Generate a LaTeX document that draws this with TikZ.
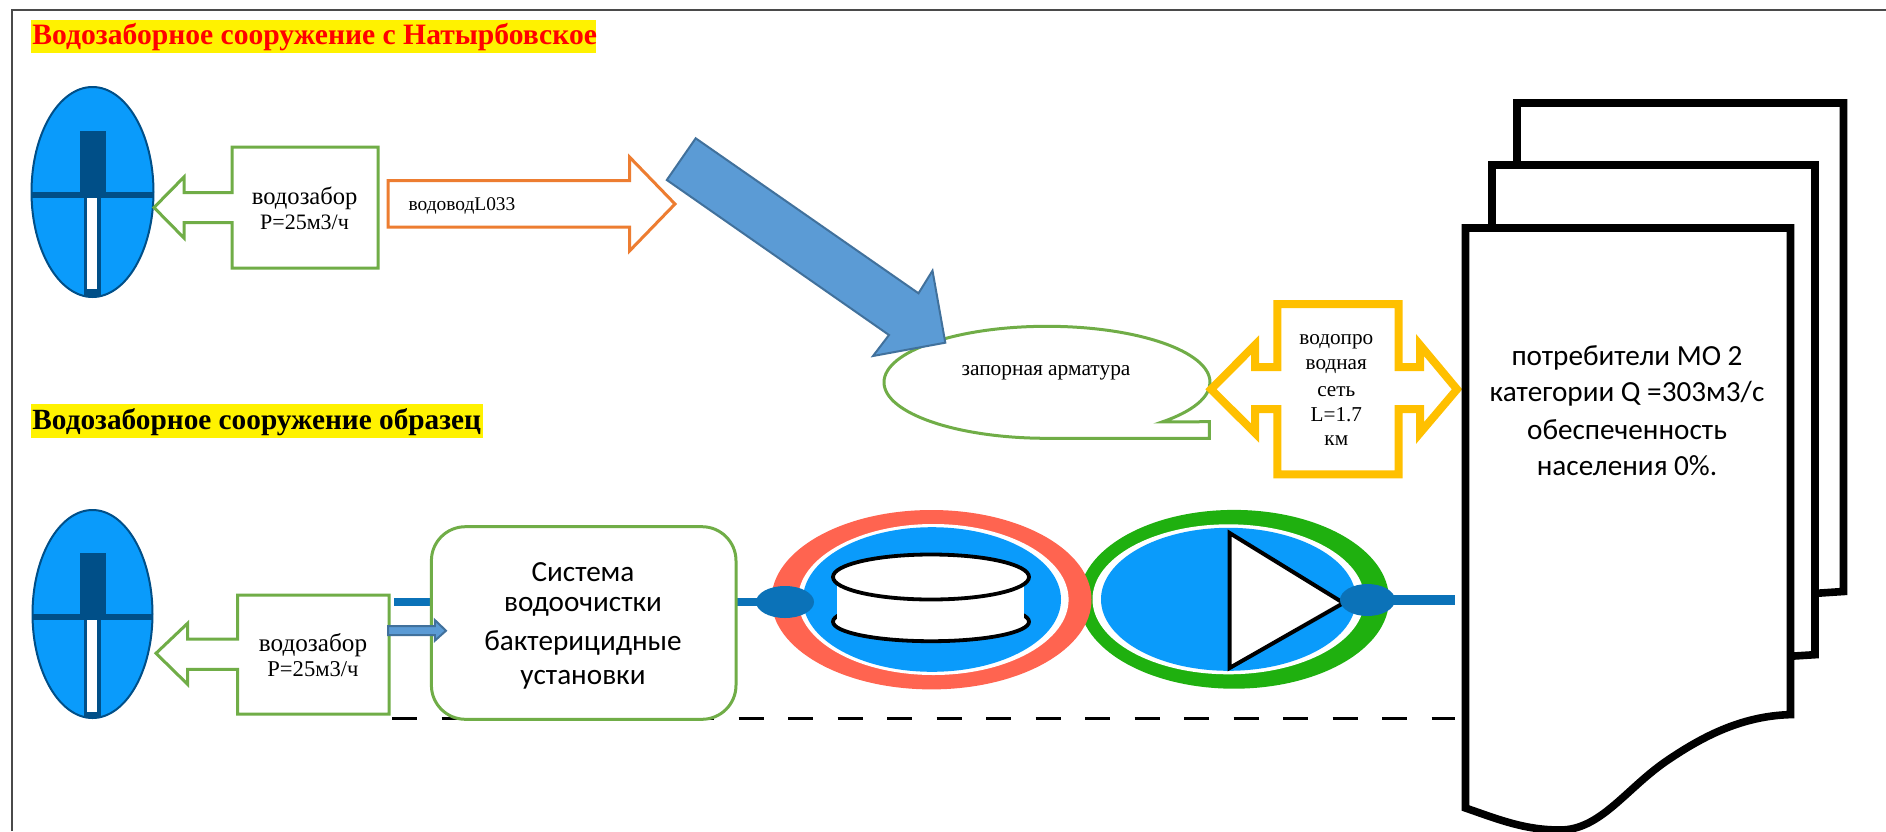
\documentclass[tikz,border=0pt]{standalone}
\usepackage{fontspec}
\setmainfont{Liberation Serif}
\newfontfamily\calfont{Carlito}
\definecolor{frameC}{HTML}{4A4A4A}
\definecolor{grn}{HTML}{70AD47}
\definecolor{org}{HTML}{ED7D31}
\definecolor{ylw}{HTML}{FFC000}
\definecolor{arF}{HTML}{5B9BD5}
\definecolor{arD}{HTML}{41719C}
\definecolor{wat}{HTML}{0A9BFB}
\definecolor{dkb}{HTML}{004F88}
\definecolor{pipe}{HTML}{0B72B8}
\definecolor{ringR}{HTML}{FF6450}
\definecolor{ringG}{HTML}{1FB00F}
\tikzset{
  x=0.5pt,y=-0.5pt,
  txt/.style={inner sep=0pt,align=center,font=\fontsize{#1}{#1}\selectfont,text=black},
  cal/.style={inner sep=0pt,align=center,font=\calfont\fontsize{#1}{#1}\selectfont,text=black},
  head/.style={inner sep=0pt,anchor=west,font=\bfseries\fontsize{#1}{#1}\selectfont},
  block/.style={draw=grn,line width=1.5pt,fill=white,miter limit=10},
  doc/.style={draw=black,line width=3.8pt,fill=white,miter limit=10},
  pipeline/.style={draw=pipe,line width=4pt},
}
\newcommand{\wellsym}[8]{% cx cy rx ry, dark top, bar top, bar bottom, white bottom
  \fill[wat,draw=dkb,line width=1pt] (#1,#2) ellipse [x radius=#3,y radius=#4];
  \fill[dkb] (79.5,#5) rectangle (105.5,#6);
  \begin{scope}
    \clip (#1,#2) ellipse [x radius=#3,y radius=#4];
    \fill[dkb] (#1-#3,#6) rectangle (#1+#3,#7);
    \fill[dkb] (84,#7) rectangle (100.5,#2+#4);
  \end{scope}
  \fill[white] (87,#7) rectangle (97,#8);
}
\begin{document}
\begin{tikzpicture}
\useasboundingbox (0,0) rectangle (1886,831);
\fill[white] (0,0) rectangle (1886,831);
% frame
\draw[frameC,line width=1.2pt] (12,831) -- (12,10) -- (1886,10);
% titles
\fill[yellow] (31,20) rectangle (596,53);
\node[head=14.8,text=red] (title1) at (32,37) {Водозаборное сооружение с Натырбовское};
\fill[yellow] (31,404) rectangle (483,437.7);
\node[head=14.65,text=black] (title2) at (32,422) {Водозаборное сооружение образец};
% wells
\wellsym{92.5}{192}{61}{105}{131}{192}{198}{289}
\wellsym{92.5}{614}{60}{104}{553}{614}{620}{711.5}
% upper intake
\draw[block] (154,207.5) -- (184,177) -- (184,192.5) -- (232,192.5) -- (232,147) -- (378,147) -- (378,268) -- (232,268) -- (232,222.5) -- (184,222.5) -- (184,238) -- cycle;
\node[txt=12.3] (in1a) at (304.7,198) {водозабор};
\node[txt=11] (in1b) at (304.5,222) {Р=25м3/ч};
% orange arrow
\draw[block,draw=org] (388,180.5) -- (629.5,180.5) -- (629.5,157) -- (675,204) -- (629.5,251) -- (629.5,227) -- (388,227) -- cycle;
\node[txt=9.7] (pipe1) at (462,205.7) {водоводL033};
% bubble
\draw[block] (1047,438.3) arc [start angle=90,end angle=405,x radius=163,y radius=56] -- (1209.4,421.7) -- (1209.4,438.3) -- cycle;
\node[txt=10.7] (valve) at (1046,372.3) {запорная арматура};
% big blue arrow
\fill[arF,draw=arD,line width=1pt,line join=miter] (695.7,138.3) -- (918.5,293.3) -- (932.5,270.7) -- (945.3,342.7) -- (873,356) -- (889,335) -- (666.8,180) -- cycle;
% yellow cross
\draw[ylw,line width=4pt,fill=white,miter limit=10] (1211,389.3) -- (1255,345) -- (1255,367) -- (1277.4,367) -- (1277.4,304) -- (1398.5,304) -- (1398.5,367) -- (1420,367) -- (1420,345) -- (1457,389.3) -- (1420,433) -- (1420,409) -- (1398.5,409) -- (1398.5,474.3) -- (1277.4,474.3) -- (1277.4,409) -- (1255,409) -- (1255,433) -- cycle;
\node[txt=10.6] (net1) at (1336.3,341.7) {водопро};
\node[txt=10.6] (net2) at (1336.3,366.7) {водная};
\node[txt=10.6] (net3) at (1336.3,391.7) {сеть};
\node[txt=10.6] (net4) at (1336.3,414.3) {L=1.7};
\node[txt=10.6] (net5) at (1336.3,441) {км};
% lower intake
\draw[block] (156,653.3) -- (187.6,623.3) -- (187.6,639) -- (237.5,639) -- (237.5,595) -- (389,595) -- (389,714) -- (237.5,714) -- (237.5,669.3) -- (187.6,669.3) -- (187.6,684.3) -- cycle;
\node[txt=12.6] (in2a) at (313,645) {водозабор};
\node[txt=11.3] (in2b) at (313,669.3) {Р=25м3/ч};
% pipe stubs, dashed line
\draw[pipeline] (394,602) -- (432,602);
\draw[black,line width=1.5pt,dash pattern=on 12.5pt off 12.25pt] (392,718.7) -- (1455,718.7);
\draw[pipeline] (736,602) -- (770,602);
\draw[pipeline,line width=5pt] (1380,600) -- (1455,600);
% purification box
\node[draw=grn,line width=1.5pt,fill=white,rounded corners=17pt,minimum width=152.3pt,minimum height=96.3pt,inner sep=0pt] (purif) at (583.7,623) {};
\node[cal=14.6] (p1) at (583,571.7) {Система};
\node[cal=14.6] (p2) at (583,607.3) {водоочистки};
\node[cal=14.6] (p3) at (583,643.3) {бактерицидные};
\node[cal=14.6] (p4) at (583,679.3) {установки};
% small arrow
\fill[arF,draw=arD,line width=1pt] (388,626) -- (434.8,626) -- (434.8,620) -- (446,630.7) -- (434.8,640.7) -- (434.8,635) -- (388,635) -- cycle;
% pump ring
\fill[ringG] (1234,599.3) ellipse [x radius=155,y radius=89.4];
\fill[white] (1228.5,599.3) ellipse [x radius=136,y radius=75];
\fill[wat] (1228.5,599.3) ellipse [x radius=127.5,y radius=71.5];
% tank ring
\fill[ringR] (931.5,599.7) ellipse [x radius=160,y radius=89.7];
\fill[white] (933.3,599.5) ellipse [x radius=135.3,y radius=75.5];
\fill[wat] (932,599.5) ellipse [x radius=129,y radius=72.3];
% tank
\draw[black,line width=1.9pt,fill=white] (931,621.7) ellipse [x radius=98,y radius=19.5];
\fill[white] (837,577) rectangle (1023.5,624);
\draw[black,line width=1.9pt,fill=white] (931,577) ellipse [x radius=98,y radius=22.5];
% pump triangle
\draw[black,line width=2pt,fill=white,miter limit=10] (1229.6,533) -- (1343.5,603) -- (1229.6,668) -- cycle;
% junctions
\fill[pipe] (785,602) ellipse [x radius=29,y radius=16];
\fill[pipe] (1367.5,600) ellipse [x radius=27.5,y radius=16];
% documents
\draw[doc] (1517,103) -- (1843.5,103) -- (1843.5,591.5) -- (1760,597) -- (1517,700) -- cycle;
\draw[doc] (1492,165) -- (1815,165) -- (1815,654.7) -- (1730,660) -- (1492,760) -- cycle;
\draw[doc] (1465.5,228) -- (1790.5,228) -- (1790.5,714.6) .. controls (1740,716) and (1700,738) .. (1665,762) .. controls (1625,790) and (1600,830) .. (1560,830) .. controls (1525,830) and (1500,820) .. (1465.5,808) -- cycle;
\node[cal=14.6] (c1) at (1627,358) {потребители МО 2};
\node[cal=14.6] (c2) at (1627,394) {категории Q =303м3/с};
\node[cal=14.6] (c3) at (1627,430) {обеспеченность};
\node[cal=14.6] (c4) at (1627,466) {населения 0\%.};
\end{tikzpicture}
\end{document}
